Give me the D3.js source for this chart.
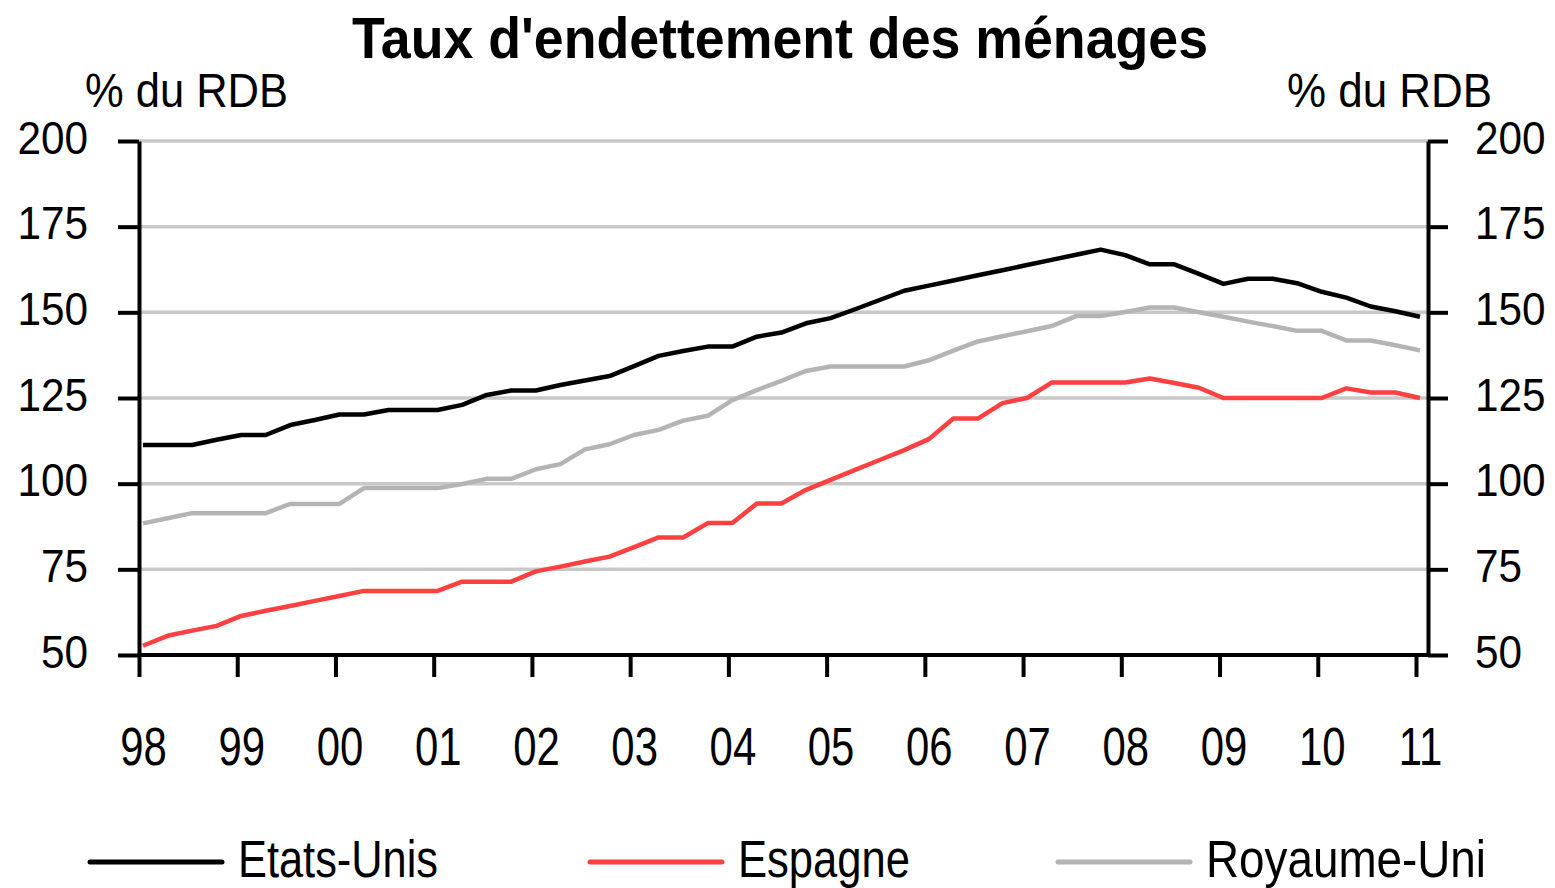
<!DOCTYPE html>
<html>
<head>
<meta charset="utf-8">
<script src="https://cdn.jsdelivr.net/npm/d3@7"></script>
<style>
  html, body { margin: 0; padding: 0; background: #fff; }
  svg { display: block; font-family: "Liberation Sans", Arial, sans-serif; }
</style>
</head>
<body>
<div id="chart"></div>
<script>
// quarterly, 1998 Q1 -> 2011 Q1
const years = [1998, 1999, 2000, 2001, 2002, 2003, 2004, 2005, 2006, 2007, 2008, 2009, 2010, 2011];
const yTicks = [50, 75, 100, 125, 150, 175, 200];

const etatsUnis = [
  111.3, 111.3, 111.3, 112.8, 114.2, 114.2, 117.1, 118.6, 120.2, 120.2,
  121.5, 121.5, 121.5, 123.0, 125.9, 127.2, 127.2, 128.8, 130.1, 131.4,
  134.3, 137.3, 138.7, 140.0, 140.0, 142.9, 144.1, 146.8, 148.3, 150.9,
  153.6, 156.3, 157.8, 159.3, 160.8, 162.3, 163.8, 165.3, 166.8, 168.3,
  166.7, 164.0, 164.0, 161.2, 158.3, 159.8, 159.8, 158.5, 156.0, 154.3,
  151.7, 150.3, 148.7
];
const espagne = [
  52.7, 55.6, 57.1, 58.5, 61.4, 62.9, 64.3, 65.8, 67.2, 68.7,
  68.7, 68.7, 68.7, 71.4, 71.4, 71.4, 74.4, 75.8, 77.3, 78.7,
  81.5, 84.3, 84.3, 88.5, 88.5, 94.2, 94.2, 98.2, 101.1, 104.0,
  106.9, 109.8, 113.0, 119.0, 119.0, 123.5, 125.0, 129.5, 129.5, 129.5,
  129.5, 130.7, 129.4, 128.0, 125.0, 125.0, 125.0, 125.0, 125.0, 127.8,
  126.6, 126.6, 125.0
];
const royaumeUni = [
  88.4, 89.9, 91.4, 91.4, 91.4, 91.4, 94.1, 94.1, 94.1, 98.7,
  98.7, 98.7, 98.7, 99.9, 101.4, 101.4, 104.2, 105.7, 110.0, 111.5,
  114.2, 115.7, 118.4, 119.8, 124.4, 127.3, 130.0, 132.9, 134.2, 134.2,
  134.2, 134.2, 136.0, 138.8, 141.5, 143.0, 144.5, 146.0, 148.9, 148.9,
  150.1, 151.4, 151.4, 150.0, 148.7, 147.3, 146.0, 144.6, 144.6, 141.8,
  141.8, 140.4, 138.9
];

const series = [
  { name: 'Etats-Unis', values: etatsUnis, color: '#000000' },
  { name: 'Espagne', values: espagne, color: '#ff4040' },
  { name: 'Royaume-Uni', values: royaumeUni, color: '#b4b4b4' }
];

const W = 1555, H = 888;
const plot = { left: 139, right: 1428, top: 141, bottom: 655 };

const svg = d3.select('#chart').append('svg')
  .attr('width', W)
  .attr('height', H);

const x = d3.scaleLinear().domain([1998, 2011]).range([139, 1416]);
const y = d3.scaleLinear().domain([50, 200]).range([plot.bottom, plot.top]);

// narrow the text like the original (condensed Arial look)
function squeeze(sel, k) {
  sel.each(function() {
    const w = this.getComputedTextLength();
    d3.select(this).attr('textLength', w * k).attr('lengthAdjust', 'spacingAndGlyphs');
  });
}

// gridlines
svg.append('g')
  .selectAll('line')
  .data(yTicks.filter(d => d > 50))
  .join('line')
  .attr('x1', plot.left)
  .attr('x2', plot.right)
  .attr('y1', d => y(d))
  .attr('y2', d => y(d))
  .attr('stroke', '#c8c8c8')
  .attr('stroke-width', 3.5);

// series lines
const line = d3.line()
  .x((d, i) => x(1998 + 0.04 + i / 4))
  .y(d => y(d));

svg.append('g')
  .selectAll('path')
  .data(series)
  .join('path')
  .attr('fill', 'none')
  .attr('stroke', d => d.color)
  .attr('stroke-width', 4.5)
  .attr('stroke-linejoin', 'round')
  .attr('d', d => line(d.values));

// axes
const tickFont = (g, size) => g.selectAll('text')
  .attr('font-size', size)
  .attr('fill', '#000')
  .attr('font-family', '"Liberation Sans", Arial, sans-serif');

const leftAxis = svg.append('g')
  .attr('transform', `translate(${plot.left},0)`)
  .call(d3.axisLeft(y).tickValues(yTicks).tickSize(21).tickSizeOuter(0).tickPadding(30));
leftAxis.call(tickFont, 47);
leftAxis.selectAll('text').attr('dy', '0.26em');

const rightAxis = svg.append('g')
  .attr('transform', `translate(${plot.right},0)`)
  .call(d3.axisRight(y).tickValues(yTicks).tickSize(20).tickSizeOuter(0).tickPadding(27));
rightAxis.call(tickFont, 47);
rightAxis.selectAll('text').attr('dy', '0.26em');

const bottomAxis = svg.append('g')
  .attr('transform', `translate(0,${plot.bottom})`)
  .call(d3.axisBottom(x).tickValues(years).tickSize(22).tickSizeOuter(0).tickPadding(50)
    .tickFormat(d => String(d).slice(2)));
bottomAxis.call(tickFont, 53);
bottomAxis.selectAll('text').attr('dx', 4);
bottomAxis.select('.domain').remove();
svg.append('line')
  .attr('x1', plot.left).attr('x2', plot.right)
  .attr('y1', plot.bottom).attr('y2', plot.bottom)
  .attr('stroke', '#000').attr('stroke-width', 4);

svg.selectAll('.tick line').attr('stroke', '#000').attr('stroke-width', 4);
svg.selectAll('.domain').attr('stroke', '#000').attr('stroke-width', 4);

squeeze(leftAxis.selectAll('.tick text'), 0.9);
squeeze(rightAxis.selectAll('.tick text'), 0.9);
squeeze(bottomAxis.selectAll('.tick text'), 0.79);

// title and units
svg.append('text')
  .attr('x', 780)
  .attr('y', 58)
  .attr('text-anchor', 'middle')
  .attr('font-size', 58)
  .attr('font-weight', 'bold')
  .attr('textLength', 856)
  .attr('lengthAdjust', 'spacingAndGlyphs')
  .text("Taux d'endettement des ménages");

svg.append('text')
  .attr('x', 85)
  .attr('y', 107)
  .attr('font-size', 49)
  .attr('textLength', 203)
  .attr('lengthAdjust', 'spacingAndGlyphs')
  .text('% du RDB');

svg.append('text')
  .attr('x', 1287)
  .attr('y', 107)
  .attr('font-size', 49)
  .attr('textLength', 205)
  .attr('lengthAdjust', 'spacingAndGlyphs')
  .text('% du RDB');

// legend
const legendX = [90, 590, 1058];
const legendW = [200, 172, 280];
const legend = svg.append('g')
  .selectAll('g')
  .data(series)
  .join('g')
  .attr('transform', (d, i) => `translate(${legendX[i]},0)`);

legend.append('line')
  .attr('x1', 0).attr('x2', 132)
  .attr('y1', 862).attr('y2', 862)
  .attr('stroke', d => d.color)
  .attr('stroke-width', 5)
  .attr('stroke-linecap', 'round');

legend.append('text')
  .attr('x', 148)
  .attr('y', 877)
  .attr('font-size', 51)
  .attr('textLength', (d, i) => legendW[i])
  .attr('lengthAdjust', 'spacingAndGlyphs')
  .text(d => d.name);
</script>
</body>
</html>
